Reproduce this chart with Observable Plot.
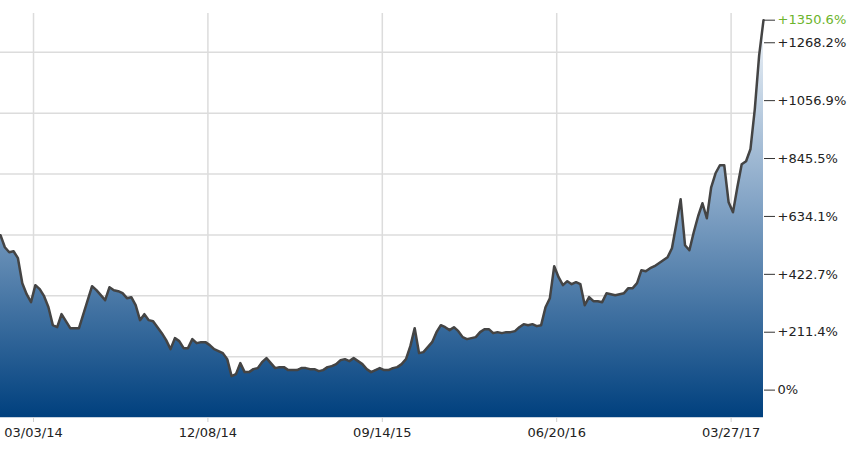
<!DOCTYPE html>
<html>
<head>
<meta charset="utf-8">
<script src="https://cdn.jsdelivr.net/npm/d3@7"></script>
<script src="https://cdn.jsdelivr.net/npm/@observablehq/plot@0.6"></script>
<style>
  body { margin: 0; background: #fff; }
</style>
</head>
<body>
<div id="chart"></div>
<script>
// weekly % change since start
const firstWeek = "2014-01-09"
const change = [
  565.5, 521.7, 503.5, 507.1, 481.6, 390.4, 350.2, 321.1, 383.1, 368.5,
  342.9, 302.8, 237.1, 229.8, 277.3, 251.7, 226.2, 226.2, 226.2, 277.3,
  328.3, 379.4, 364.8, 346.6, 328.3, 375.8, 364.8, 361.2, 353.9, 335.6,
  339.3, 310.1, 255.4, 277.3, 255.4, 251.7, 229.8, 208.0, 182.4, 149.6,
  189.7, 178.8, 153.2, 153.2, 186.1, 171.5, 175.1, 175.1, 164.2, 149.6,
  142.3, 135.0, 113.1, 51.1, 58.4, 98.5, 65.7, 65.7, 76.6, 80.3,
  102.2, 116.7, 98.5, 80.3, 83.9, 83.9, 73.0, 73.0, 73.0, 80.3,
  80.3, 76.6, 76.6, 69.3, 73.0, 83.9, 87.6, 94.9, 109.4, 113.1,
  105.8, 116.7, 105.8, 94.9, 76.6, 65.7, 73.0, 80.3, 73.0, 73.0,
  80.3, 83.9, 94.9, 113.1, 160.5, 226.2, 135.0, 138.6, 156.9, 175.1,
  211.6, 237.1, 229.8, 218.9, 229.8, 215.3, 193.4, 186.1, 189.7, 193.4,
  211.6, 222.5, 222.5, 208.0, 211.6, 208.0, 211.6, 211.6, 215.3, 229.8,
  240.8, 237.1, 240.8, 233.5, 237.1, 302.8, 335.6, 452.4, 412.3, 383.1,
  397.7, 386.7, 394.0, 386.7, 310.1, 339.3, 324.7, 324.7, 321.1, 353.9,
  350.2, 346.6, 350.2, 353.9, 372.1, 372.1, 390.4, 437.8, 434.1, 445.1,
  452.4, 463.3, 474.3, 485.2, 518.1, 605.6, 696.8, 529.0, 510.8, 576.4,
  634.8, 682.2, 627.5, 740.6, 791.7, 820.9, 820.9, 685.9, 649.4, 740.6,
  824.5, 835.5, 879.2, 1025.2, 1222.2, 1350.6
]

const dateTicks = ["2014-03-03", "2014-12-08", "2015-09-14", "2016-06-20", "2017-03-27"]
const pctTicks = [0, 211.4, 422.7, 634.1, 845.5, 1056.9, 1268.2]
const gridLevels = [122.2, 344.4, 566.7, 788.9, 1011.1, 1233.3]
const lastValue = 1350.6

const start = new Date(firstWeek)
const data = change.map((v, i) => ({ date: d3.utcDay.offset(start, 7 * i), v }))
const xTicks = dateTicks.map(d => new Date(d))
const fmtPct = d => d === 0 ? "0%" : "+" + d.toFixed(1) + "%"

// gradient for the area
function fadeDefs() {
  const defs = d3.create("svg:defs")
  const g = defs.append("linearGradient")
    .attr("id", "fade").attr("x1", 0).attr("y1", 0).attr("x2", 0).attr("y2", 1)
  g.append("stop").attr("offset", "0%").attr("stop-color", "#f2f6fa")
  g.append("stop").attr("offset", "45%").attr("stop-color", "#86a6c7")
  g.append("stop").attr("offset", "100%").attr("stop-color", "#00407e")
  return defs.node()
}

let chart = Plot.plot({
  width: 855,
  height: 450,
  marginLeft: 0,
  marginRight: 92,
  marginTop: 13,
  marginBottom: 33,
  style: { fontFamily: "DejaVu Sans, Verdana, sans-serif", fontSize: "13px", color: "#222" },
  x: { type: "utc", domain: [data[0].date, data[data.length - 1].date] },
  y: { domain: [-100, 1375] },
  marks: [
    fadeDefs,
    Plot.gridX(xTicks, { stroke: "#dcdcdc", strokeOpacity: 1, strokeWidth: 1.5 }),
    Plot.gridY(gridLevels, { stroke: "#dcdcdc", strokeOpacity: 1, strokeWidth: 1.5 }),
    Plot.areaY(data, { x: "date", y1: -100, y2: "v", fill: "url(#fade)" }),
    Plot.lineY(data, { x: "date", y: "v", stroke: "#444", strokeWidth: 2.5 }),
    Plot.ruleY([-100], { stroke: "#c5d2df" }),
    Plot.axisX(xTicks, {
      tickFormat: d3.utcFormat("%m/%d/%y"), label: null,
      tickSize: 5, tickPadding: 5, stroke: "#d0d0d0", fill: "#222"
    }),
    Plot.axisY(pctTicks, {
      anchor: "right", tickFormat: fmtPct, label: null,
      tickSize: 11, tickPadding: 3, stroke: "#333", fill: "#222"
    }),
    Plot.axisY([lastValue], {
      anchor: "right", tickFormat: fmtPct, label: null,
      tickSize: 11, tickPadding: 3, stroke: "#333", fill: "#6cb42c"
    })
  ]
})

d3.select("#chart").append(() => chart)
</script>
</body>
</html>
